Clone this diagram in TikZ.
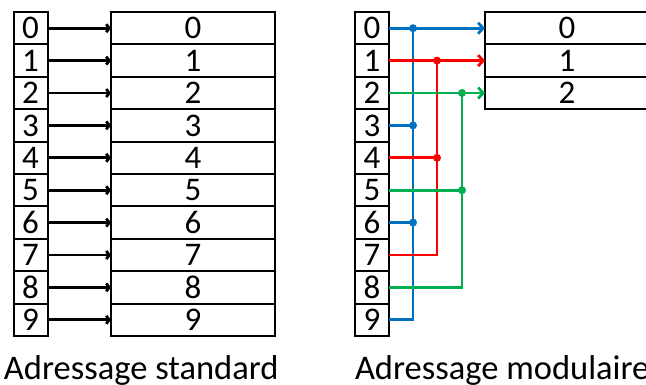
\documentclass[tikz,border=0pt]{standalone}
\usepackage{fontspec}
\setmainfont{Carlito}
\usetikzlibrary{arrows.meta}
\definecolor{bleu}{RGB}{0,112,192}
\definecolor{rouge}{RGB}{255,0,0}
\definecolor{vert}{RGB}{0,176,80}
\begin{document}
\begin{tikzpicture}[x=1pt, y=-1pt,
        every node/.style={draw, line width=2pt, inner sep=0pt, outer sep=0pt, minimum height=32.4pt, font=\fontsize{33}{33}\selectfont},
        cle/.style={minimum width=34pt},
        case/.style={minimum width=164pt},
        titre/.style={draw=none, anchor=base west, font=\fontsize{34.5}{34.5}\selectfont},
        lien/.style={line width=2.8pt, -{Straight Barb[length=3pt,width=8pt]}},
        lienmod/.style={line width=2.8pt, -{Straight Barb[length=5pt,width=11pt]}},
        bus/.style={line width=2.8pt}]
        \useasboundingbox (0,0) rectangle (646,384);

        % Adressage standard
        \foreach \i in {0,...,9} {
            \node (L\i) [cle] at (30.5,{28.2+32.4*\i}) {\i};
            \node (B\i) [case] at (193,{28.2+32.4*\i}) {\i};
            \draw[lien] (L\i) -- (B\i);
        }

        % Adressage modulaire
        \foreach \i in {0,...,9}
            \node (R\i) [cle] at (372,{28.2+32.4*\i}) {\i};
        \foreach \i in {0,1,2}
            \node (M\i) [case] at (567,{28.2+32.4*\i}) {\i};

        % Arrows (i mod 3)
        \foreach \j/\col/\bx/\last/\rows in {0/bleu/413/9/{3,6}, 1/rouge/437/7/{4}, 2/vert/462/8/{5}} {
            \coordinate (T\j) at (\bx,{28.2+32.4*\j});
            \draw[lienmod, \col] (R\j) -- (M\j);
            \draw[bus, \col] (R\last.east) -| (T\j);
            \fill[\col] (T\j) circle (4);
            \foreach \k in \rows {
                \draw[bus, \col] (R\k.east) -- (T\j |- R\k);
                \fill[\col] (T\j |- R\k) circle (4);
            }
        }

        % Descriptions
        \node (TS) [titre] at (4,379) {Adressage standard};
        \node (TM) [titre] at (355,379) {Adressage modulaire};
    \end{tikzpicture}
\end{document}
